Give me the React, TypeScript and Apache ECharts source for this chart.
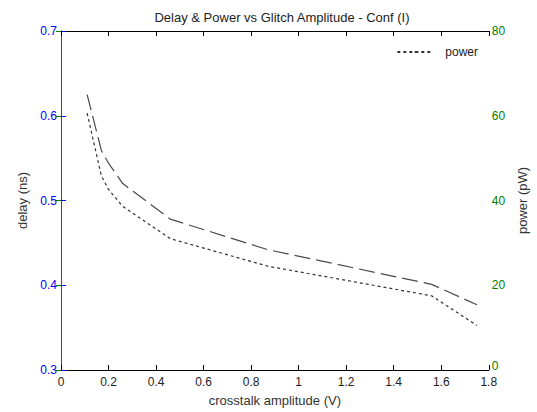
import React, { useEffect, useRef } from "react";
import * as echarts from "echarts";

const amplitude = [0.11, 0.17, 0.2, 0.26, 0.46, 0.87, 1.56, 1.75];
const delay = [0.625, 0.559, 0.544, 0.52, 0.478, 0.442, 0.401, 0.377];
const power = [60.6, 45.8, 42.6, 38.6, 31.0, 24.5, 17.5, 10.5];

const FONT = "Liberation Sans, Arial, sans-serif";

export default function App() {
  const ref = useRef<HTMLDivElement>(null);
  useEffect(() => {
    if (!ref.current) return;
    const chart = echarts.init(ref.current, undefined, { renderer: "svg" });
    const xName = "crosstalk amplitude (V)";
    chart.setOption({
      animation: false,
      backgroundColor: "#ffffff",
      textStyle: { fontFamily: FONT },
      title: {
        text: "Delay & Power vs Glitch Amplitude - Conf (I)",
        left: 277,
        textAlign: "center",
        top: 6,
        textStyle: { fontSize: 13, fontWeight: "normal", color: "#222", fontFamily: FONT },
      },
      legend: {
        data: ["power"],
        right: 54,
        top: 41,
        itemWidth: 36,
        itemHeight: 2,
        itemGap: 6,
        textStyle: { fontSize: 12, color: "#222", fontFamily: FONT, padding: [0, 0, 0, 7] },
      },
      grid: { left: 61, right: 42, top: 31, bottom: 39, containLabel: false },
      xAxis: [
        {
          type: "value",
          min: 0,
          max: 1.8,
          interval: 0.2,
          name: xName,
          nameLocation: "middle",
          nameGap: 24,
          nameTextStyle: { fontSize: 13, color: "#333", fontFamily: FONT },
          axisLine: { show: true, lineStyle: { color: "#000", width: 1 } },
          axisTick: { show: true, inside: true, length: 5, lineStyle: { color: "#000" } },
          axisLabel: {
            fontSize: 12,
            lineHeight: 12,
            color: "#222",
            margin: 6,
            fontFamily: FONT,
            formatter: (v: number) => String(Math.round(v * 10) / 10),
          },
          splitLine: { show: false },
        },
        {
          type: "value",
          position: "top",
          min: 0,
          max: 1.8,
          interval: 0.2,
          axisLine: { show: true, lineStyle: { color: "#000", width: 1 } },
          axisTick: { show: true, inside: true, length: 5, lineStyle: { color: "#000" } },
          axisLabel: { show: false },
          splitLine: { show: false },
        },
      ],
      yAxis: [
        {
          type: "value",
          position: "left",
          min: 0.3,
          max: 0.7,
          interval: 0.1,
          name: "delay (ns)",
          nameLocation: "middle",
          nameGap: 31,
          nameTextStyle: { fontSize: 13, color: "#333", fontFamily: FONT },
          axisLine: { show: true, lineStyle: { color: "#0000ff", width: 1 } },
          axisTick: { show: true, inside: true, length: 5, lineStyle: { color: "#0000ff" } },
          axisLabel: {
            fontSize: 12,
            color: "#0000ff",
            margin: 4,
            fontFamily: FONT,
            formatter: (v: number) => (Math.round(v * 10) / 10).toFixed(1),
          },
          splitLine: { show: false },
        },
        {
          type: "value",
          position: "right",
          min: 0,
          max: 80,
          interval: 20,
          name: "power (pW)",
          nameLocation: "middle",
          nameGap: 22,
          nameRotate: 90,
          nameTextStyle: { fontSize: 13, color: "#333", fontFamily: FONT },
          axisLine: { show: true, lineStyle: { color: "#008000", width: 1 } },
          axisTick: { show: true, inside: true, length: 5, lineStyle: { color: "#008000" } },
          axisLabel: {
            fontSize: 12,
            lineHeight: 12,
            color: "#008000",
            margin: 3,
            fontFamily: FONT,
            formatter: (v: number) => (v === 0 ? "{z|0}" : String(v)),
            rich: {
              z: {
                fontSize: 12,
                lineHeight: 12,
                color: "#008000",
                fontFamily: FONT,
                padding: [0, 0, 8, 0],
              },
            },
          },
          splitLine: { show: false },
        },
      ],
      series: [
        {
          name: "delay",
          type: "line",
          xAxisIndex: 0,
          yAxisIndex: 0,
          data: amplitude.map((x, i) => [x, delay[i]]),
          showSymbol: false,
          symbol: "none",
          lineStyle: { color: "#4a4a4a", width: 1.2, type: [16, 6] },
          itemStyle: { color: "#4a4a4a" },
        },
        {
          name: "power",
          type: "line",
          xAxisIndex: 0,
          yAxisIndex: 1,
          data: amplitude.map((x, i) => [x, power[i]]),
          showSymbol: false,
          symbol: "none",
          lineStyle: { color: "#333", width: 1.2, type: [3, 3] },
          itemStyle: { color: "#333" },
        },
      ],
    });
    return () => chart.dispose();
  }, []);
  return (
    <div
      ref={ref}
      style={{ position: "fixed", left: 0, top: 0, width: 537, height: 412 }}
    />
  );
}
